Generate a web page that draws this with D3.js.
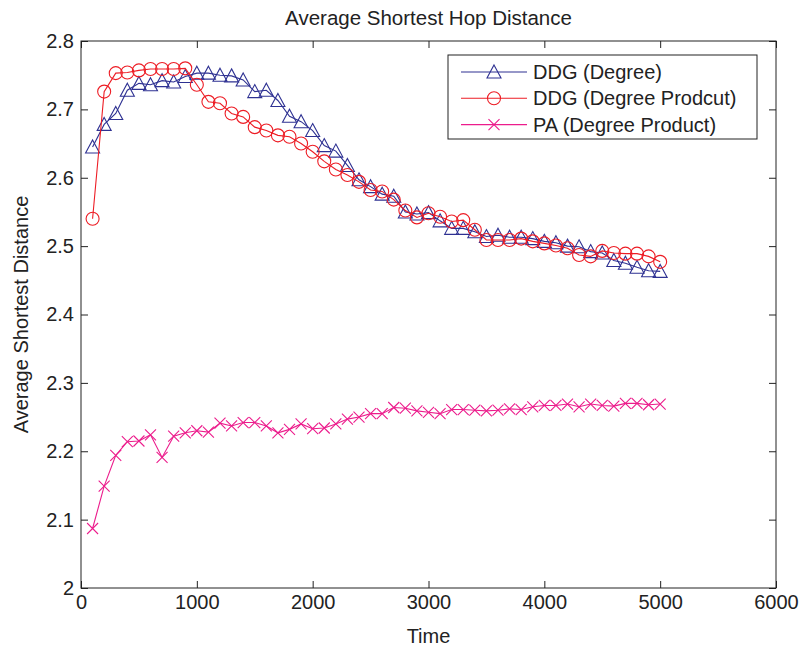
<!DOCTYPE html>
<html>
<head>
<meta charset="utf-8">
<script src="https://cdn.jsdelivr.net/npm/d3@7"></script>
<style>
  html, body { margin: 0; padding: 0; background: #fff; }
  svg { display: block; }
  text { font-family: "Liberation Sans", Arial, Helvetica, sans-serif; fill: #222; }
</style>
</head>
<body>
<svg id="chart" width="801" height="648"></svg>
<script>
// x values (time steps)
const times = [100, 200, 300, 400, 500, 600, 700, 800, 900, 1000,
  1100, 1200, 1300, 1400, 1500, 1600, 1700, 1800, 1900, 2000,
  2100, 2200, 2300, 2400, 2500, 2600, 2700, 2800, 2900, 3000,
  3100, 3200, 3300, 3400, 3500, 3600, 3700, 3800, 3900, 4000,
  4100, 4200, 4300, 4400, 4500, 4600, 4700, 4800, 4900, 5000];

const ddgDegree = [2.645, 2.678, 2.694, 2.728, 2.738, 2.736, 2.742, 2.740, 2.748, 2.753,
  2.753, 2.750, 2.749, 2.743, 2.726, 2.728, 2.713, 2.690, 2.682, 2.669,
  2.647, 2.639, 2.618, 2.597, 2.587, 2.576, 2.573, 2.550, 2.547, 2.549,
  2.537, 2.526, 2.526, 2.521, 2.514, 2.516, 2.513, 2.513, 2.511, 2.507,
  2.505, 2.500, 2.499, 2.492, 2.490, 2.479, 2.475, 2.469, 2.464, 2.463];

const ddgProduct = [2.540, 2.726, 2.753, 2.754, 2.757, 2.759, 2.759, 2.759, 2.760, 2.736,
  2.711, 2.709, 2.694, 2.689, 2.674, 2.669, 2.662, 2.660, 2.650, 2.638,
  2.624, 2.612, 2.604, 2.594, 2.582, 2.580, 2.568, 2.552, 2.542, 2.548,
  2.543, 2.536, 2.538, 2.524, 2.509, 2.509, 2.509, 2.511, 2.507, 2.504,
  2.501, 2.497, 2.487, 2.485, 2.493, 2.490, 2.489, 2.489, 2.485, 2.477];

const paProduct = [2.087, 2.149, 2.194, 2.214, 2.215, 2.224, 2.191, 2.222, 2.227, 2.230,
  2.228, 2.241, 2.237, 2.242, 2.242, 2.237, 2.227, 2.232, 2.240, 2.233,
  2.234, 2.240, 2.247, 2.250, 2.255, 2.255, 2.264, 2.263, 2.259, 2.257,
  2.255, 2.261, 2.261, 2.260, 2.259, 2.260, 2.262, 2.261, 2.265, 2.267,
  2.267, 2.269, 2.265, 2.269, 2.267, 2.266, 2.270, 2.270, 2.268, 2.269];

const xTicks = [0, 1000, 2000, 3000, 4000, 5000, 6000];
const yTicks = [2, 2.1, 2.2, 2.3, 2.4, 2.5, 2.6, 2.7, 2.8];

const series = [
  { name: "DDG (Degree)", values: ddgDegree, color: "#2e3192", marker: "triangle" },
  { name: "DDG (Degree Prodcut)", values: ddgProduct, color: "#ed1c24", marker: "circle" },
  { name: "PA (Degree Product)", values: paProduct, color: "#ec1c8c", marker: "cross" }
];

const plotLeft = 81, plotRight = 776, plotTop = 41, plotBottom = 588;
const svg = d3.select("#chart");

const x = d3.scaleLinear().domain([0, 6000]).range([plotLeft, plotRight]);
const y = d3.scaleLinear().domain([2, 2.8]).range([plotBottom, plotTop]);

// marker shapes
function markerPath(kind) {
  if (kind === "triangle") return "M0,-7L7,6L-7,6Z";
  if (kind === "circle") return "M6.5,0A6.5,6.5 0 1,1 -6.5,0A6.5,6.5 0 1,1 6.5,0Z";
  return "M-5.5,-5.5L5.5,5.5M-5.5,5.5L5.5,-5.5";
}

// axes with inward ticks
const axisColor = "#222";
const gx = svg.append("g").attr("transform", `translate(0,${plotBottom})`)
  .call(d3.axisBottom(x).tickValues(xTicks).tickSize(-7).tickPadding(7).tickFormat(d3.format("d")));
const gxTop = svg.append("g").attr("transform", `translate(0,${plotTop})`)
  .call(d3.axisTop(x).tickValues(xTicks).tickSize(-7).tickFormat(""));
const gy = svg.append("g").attr("transform", `translate(${plotLeft},0)`)
  .call(d3.axisLeft(y).tickValues(yTicks).tickSize(-7).tickPadding(7).tickFormat(d => d === 2 ? "2" : d3.format(".1f")(d)));
const gyRight = svg.append("g").attr("transform", `translate(${plotRight},0)`)
  .call(d3.axisRight(y).tickValues(yTicks).tickSize(-7).tickFormat(""));

[gx, gxTop, gy, gyRight].forEach(g => {
  g.select(".domain").remove();
  g.selectAll("line").attr("stroke", axisColor);
  g.selectAll("text").attr("font-size", 20).attr("font-family", null).style("fill", "#222");
});

svg.append("rect")
  .attr("x", plotLeft).attr("y", plotTop)
  .attr("width", plotRight - plotLeft).attr("height", plotBottom - plotTop)
  .attr("fill", "none").attr("stroke", axisColor).attr("stroke-width", 1);

// lines and markers
const line = d3.line().x((d, i) => x(times[i])).y(d => y(d));
series.forEach(s => {
  svg.append("path").datum(s.values)
    .attr("d", line).attr("fill", "none")
    .attr("stroke", s.color).attr("stroke-width", 1.1);
  svg.append("g").selectAll("path").data(s.values).join("path")
    .attr("transform", (d, i) => `translate(${x(times[i])},${y(d)})`)
    .attr("d", markerPath(s.marker))
    .attr("fill", "none").attr("stroke", s.color).attr("stroke-width", 1.1);
});

// title and axis labels
svg.append("text").attr("x", (plotLeft + plotRight) / 2).attr("y", 25)
  .attr("text-anchor", "middle").attr("font-size", 20.5).text("Average Shortest Hop Distance");
svg.append("text").attr("x", (plotLeft + plotRight) / 2).attr("y", 643)
  .attr("text-anchor", "middle").attr("font-size", 20).text("Time");
svg.append("text")
  .attr("transform", `translate(28,${(plotTop + plotBottom) / 2}) rotate(-90)`)
  .attr("text-anchor", "middle").attr("font-size", 20).text("Average Shortest Distance");

// legend
const lg = svg.append("g");
lg.append("rect").attr("x", 448).attr("y", 55).attr("width", 309).attr("height", 84)
  .attr("fill", "#fff").attr("stroke", axisColor).attr("stroke-width", 1);
series.forEach((s, i) => {
  const ry = 72 + i * 26.3;
  lg.append("line").attr("x1", 461).attr("x2", 527).attr("y1", ry).attr("y2", ry)
    .attr("stroke", s.color).attr("stroke-width", 1.1);
  lg.append("path").attr("transform", `translate(494,${ry})`).attr("d", markerPath(s.marker))
    .attr("fill", "none").attr("stroke", s.color).attr("stroke-width", 1.1);
  lg.append("text").attr("x", 533).attr("y", ry + 7).attr("font-size", 20).text(s.name);
});
</script>
</body>
</html>
